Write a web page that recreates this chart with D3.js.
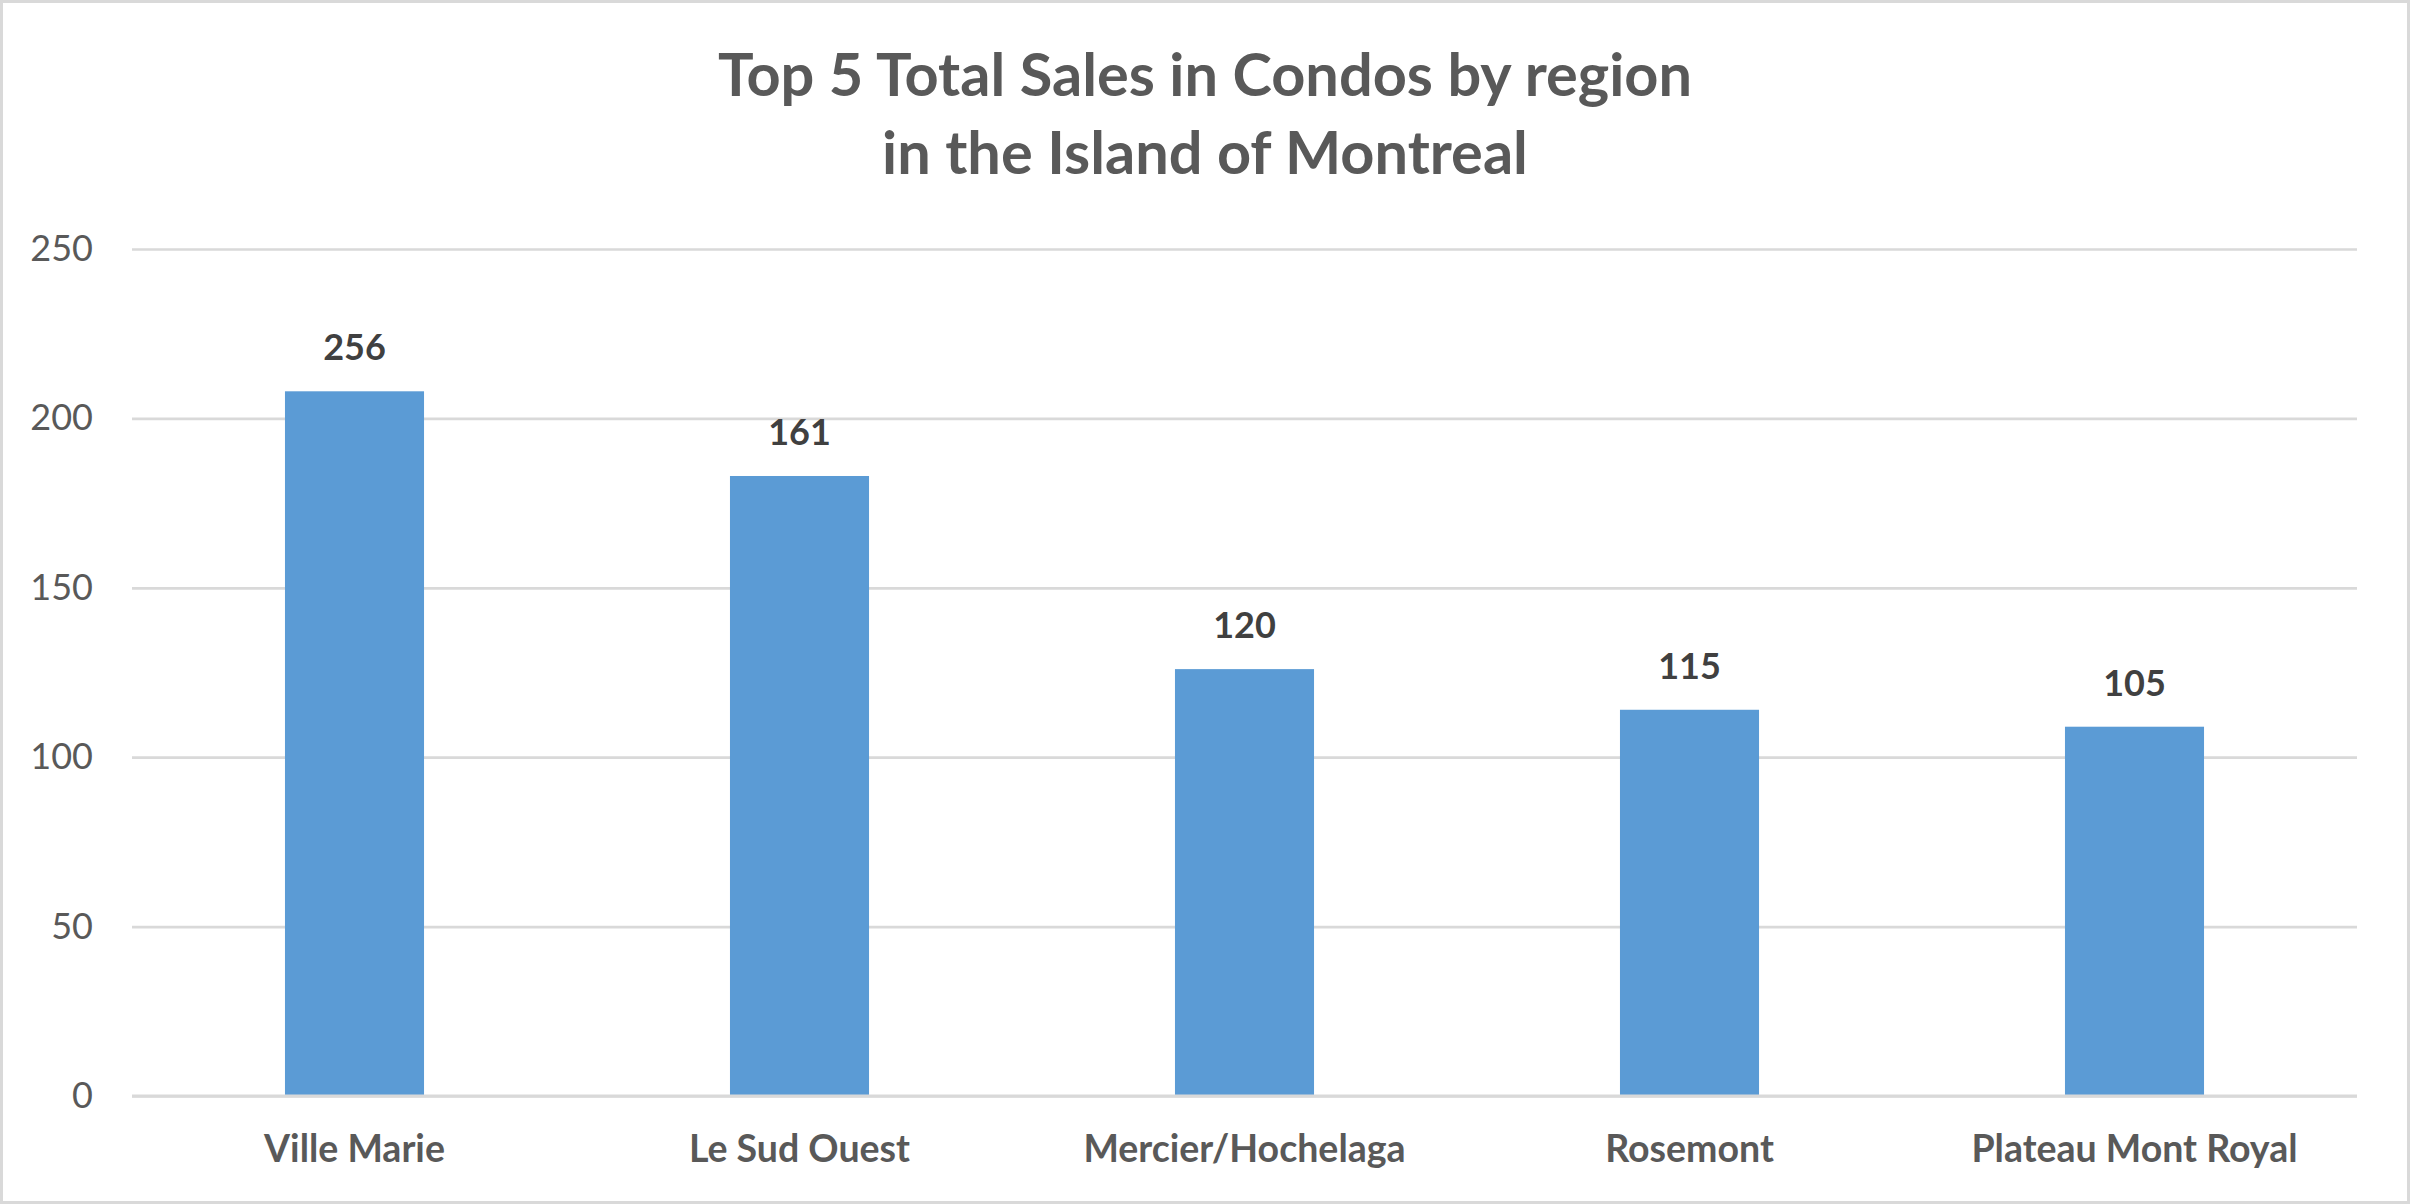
<!DOCTYPE html>
<html>
<head>
<meta charset="utf-8">
<script src="https://cdn.jsdelivr.net/npm/d3@7"></script>
<style>
  body { margin: 0; background: #fff; }
  text { font-family: Lato, "Open Sans", sans-serif; }
</style>
</head>
<body>
<div class="chart"></div>
<script>
// Data
const regions = ["Ville Marie", "Le Sud Ouest", "Mercier/Hochelaga", "Rosemont", "Plateau Mont Royal"];
const barValues = [208, 183, 126, 114, 109];     // bar heights as drawn
const labelValues = [256, 161, 120, 115, 105];   // data labels as printed
const yTicks = [0, 50, 100, 150, 200, 250];
const titleLines = ["Top 5 Total Sales in Condos by region", "in the Island of Montreal"];

const data = regions.map((r, i) => ({region: r, value: barValues[i], label: labelValues[i]}));

const W = 2410, H = 1204;
const margin = {top: 249, left: 132, right: 53, bottom: 108};
const width = W - margin.left - margin.right;
const height = H - margin.top - margin.bottom;

const root = d3.select(".chart").append("svg")
    .attr("width", W)
    .attr("height", H);

// outer chart border
root.append("rect")
    .attr("x", 1.5).attr("y", 1.5)
    .attr("width", W - 3).attr("height", H - 3)
    .attr("fill", "#fff")
    .attr("stroke", "#d9d9d9")
    .attr("stroke-width", 3);

// title
root.append("g").selectAll("text")
    .data(titleLines)
    .join("text")
    .attr("x", W / 2)
    .attr("y", (d, i) => 96 + i * 78)
    .attr("text-anchor", "middle")
    .attr("font-size", 59.5)
    .attr("font-weight", "bold")
    .attr("fill", "#595959")
    .text(d => d);

const svg = root.append("g")
    .attr("transform", `translate(${margin.left},${margin.top})`);

const xScale = d3.scaleBand()
    .domain(regions)
    .range([0, width])
    .paddingInner(0.6875)
    .paddingOuter(0.34375);

const yScale = d3.scaleLinear()
    .domain([0, 250])
    .range([height, 0]);

// y axis + gridlines
const yAxis = d3.axisLeft(yScale)
    .tickValues(yTicks)
    .tickSize(-width)
    .tickPadding(39);

svg.append("g")
    .attr("class", "y-axis")
    .call(yAxis)
    .call(g => g.select(".domain").remove())
    .call(g => g.selectAll(".tick line").attr("stroke", "#d9d9d9").attr("stroke-width", 2.7))
    .call(g => g.selectAll(".tick text")
        .attr("font-size", 36)
        .attr("fill", "#595959"));

// bars
svg.selectAll("rect.bar")
    .data(data)
    .join("rect")
    .attr("class", "bar")
    .attr("x", d => xScale(d.region))
    .attr("y", d => yScale(d.value))
    .attr("width", xScale.bandwidth())
    .attr("height", d => height - yScale(d.value))
    .attr("fill", "#5b9bd5");

// x axis line
svg.append("line")
    .attr("x1", 0).attr("x2", width)
    .attr("y1", height).attr("y2", height)
    .attr("stroke", "#d9d9d9")
    .attr("stroke-width", 3);

// category labels
const xAxis = d3.axisBottom(xScale).tickSize(0);
svg.append("g")
    .attr("class", "x-axis")
    .attr("transform", `translate(0, ${height})`)
    .call(xAxis)
    .call(g => g.select(".domain").remove())
    .call(g => g.selectAll(".tick text")
        .attr("dy", null)
        .attr("y", 66)
        .attr("font-size", 37.5)
        .attr("font-weight", "bold")
        .attr("fill", "#595959"));

// data labels
svg.selectAll("text.value")
    .data(data)
    .join("text")
    .attr("class", "value")
    .attr("x", d => xScale(d.region) + xScale.bandwidth() / 2)
    .attr("y", d => yScale(d.value) - 31)
    .attr("text-anchor", "middle")
    .attr("font-size", 36)
    .attr("font-weight", "bold")
    .attr("fill", "#404040")
    .text(d => d.label);
</script>
</body>
</html>
